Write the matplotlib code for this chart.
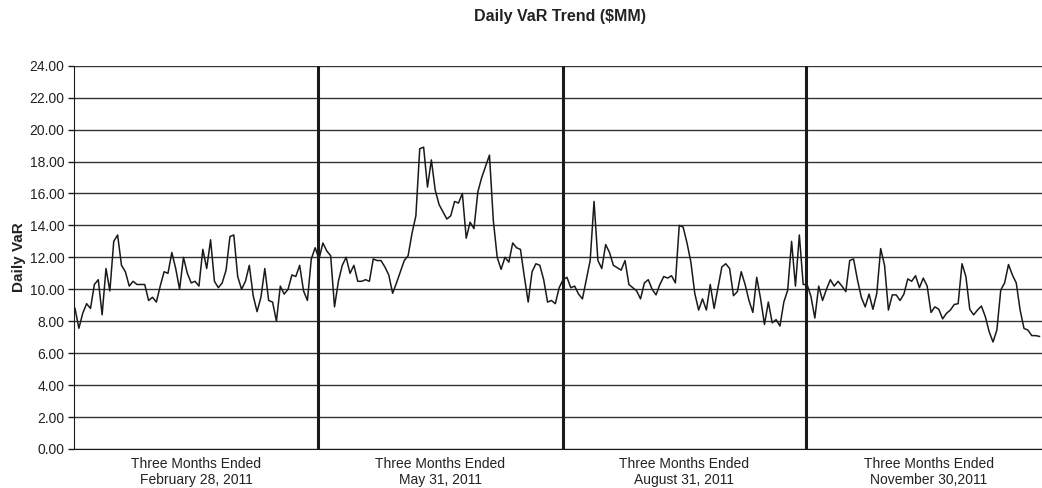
import numpy as np
import matplotlib
matplotlib.use('Agg')
import matplotlib.pyplot as plt

plt.rcParams['font.family'] = ['Liberation Sans', 'DejaVu Sans']

# -----------
# Daily VaR values ($MM), one list per quarter
# -----------
q1_feb = [8.8, 7.56, 8.5, 9.1, 8.8, 10.3, 10.6, 8.4, 11.3, 9.9,
          13.0, 13.4, 11.5, 11.1, 10.2, 10.5, 10.3, 10.3, 10.3, 9.3,
          9.5, 9.2, 10.2, 11.1, 11.0, 12.3, 11.3, 10.0, 12.0, 11.0,
          10.4, 10.5, 10.2, 12.5, 11.3, 13.1, 10.5, 10.1, 10.4, 11.2,
          13.3, 13.4, 10.8, 10.0, 10.5, 11.5, 9.6, 8.6, 9.5, 11.3,
          9.3, 9.2, 8.0, 10.2, 9.7, 10.0, 10.9, 10.8, 11.5, 9.9,
          9.3, 11.9, 12.6, 11.9]

q2_may = [12.9, 12.4, 12.1, 8.9, 10.5, 11.5, 12.0, 11.0, 11.5, 10.5,
          10.5, 10.6, 10.5, 11.9, 11.8, 11.8, 11.4, 10.9, 9.75, 10.4,
          11.1, 11.8, 12.1, 13.5, 14.6, 18.8, 18.9, 16.4, 18.1, 16.2,
          15.3, 14.85, 14.4, 14.6, 15.5, 15.4, 16.0, 13.2, 14.2, 13.8,
          16.1, 17.0, 17.7, 18.4, 14.3, 12.0, 11.25, 12.0, 11.7, 12.9,
          12.6, 12.5, 10.8, 9.2, 11.1, 11.6, 11.5, 10.6, 9.2, 9.3,
          9.1, 10.1, 10.6]

q3_aug = [10.75, 10.1, 10.2, 9.7, 9.4, 10.6, 11.8, 15.5, 11.8, 11.3,
          12.8, 12.3, 11.5, 11.35, 11.2, 11.8, 10.3, 10.1, 9.9, 9.4,
          10.4, 10.6, 10.0, 9.65, 10.3, 10.8, 10.7, 10.85, 10.4, 14.0,
          13.9, 12.9, 11.7, 9.75, 8.7, 9.4, 8.7, 10.3, 8.8, 10.1,
          11.4, 11.6, 11.3, 9.6, 9.85, 11.1, 10.3, 9.3, 8.55, 10.75,
          9.4, 7.8, 9.2, 7.9, 8.1, 7.7, 9.2, 9.95, 13.0, 10.2,
          13.4, 10.3, 10.3]

q4_nov = [9.55, 8.2, 10.2, 9.3, 10.0, 10.6, 10.2, 10.5, 10.2, 9.85,
          11.8, 11.9, 10.6, 9.5, 8.9, 9.7, 8.75, 9.75, 12.55, 11.5,
          8.7, 9.65, 9.65, 9.3, 9.7, 10.65, 10.5, 10.85, 10.1, 10.7,
          10.2, 8.55, 8.9, 8.75, 8.15, 8.5, 8.7, 9.05, 9.1, 11.6,
          10.8, 8.75, 8.4, 8.7, 8.95, 8.3, 7.35, 6.7, 7.45, 9.95,
          10.4, 11.55, 10.9, 10.4, 8.7, 7.55, 7.45, 7.1, 7.1, 7.05]

quarter_labels = ['Three Months Ended\nFebruary 28, 2011',
                  'Three Months Ended\nMay 31, 2011',
                  'Three Months Ended\nAugust 31, 2011',
                  'Three Months Ended\nNovember 30,2011']

y_ticks = [0, 2, 4, 6, 8, 10, 12, 14, 16, 18, 20, 22, 24]

var = np.array(q1_feb + q2_may + q3_aug + q4_nov)
days = np.arange(len(var))

# quarter boundaries (in day units) and label centres
bounds = [-0.26, 62.8, 125.9, 188.8, 251.9]
centres = [(bounds[i] + bounds[i + 1]) / 2 for i in range(4)]

fig = plt.figure(figsize=(10.42, 4.88), dpi=100)
ax = fig.add_axes([74 / 1042, 39 / 488, 968 / 1042, 383.3 / 488])

ax.plot(days, var, color='#1a1a1a', linewidth=1.1, zorder=3)

for b in bounds[1:4]:
    ax.axvline(b, color='#1a1a1a', linewidth=2.2, zorder=4)

ax.set_xlim(-0.26, 249.65)
ax.set_ylim(0, 24)
ax.set_yticks(y_ticks)
ax.set_yticklabels(['%.2f' % v for v in y_ticks])
ax.yaxis.grid(True, color='#333333', linewidth=1.0, zorder=1)
ax.set_axisbelow(True)

ax.set_xticks(centres)
ax.set_xticklabels(quarter_labels, fontsize=10, color='#222222', linespacing=1.15)
ax.tick_params(axis='x', length=0, pad=6)
ax.tick_params(axis='y', length=4, width=1, color='#1a1a1a', labelsize=10,
               labelcolor='#222222', pad=3)

for s in ['top', 'right']:
    ax.spines[s].set_visible(False)
ax.spines['left'].set_color('#1a1a1a')
ax.spines['bottom'].set_color('#1a1a1a')

ax.set_ylabel('Daily VaR', fontsize=11, fontweight='bold', color='#222222', labelpad=2)
fig.text(560 / 1042, 1 - 16 / 488, 'Daily VaR Trend ($MM)', fontsize=11.5,
         fontweight='bold', color='#222222', ha='center', va='center')

plt.savefig('out.png', dpi=100)
